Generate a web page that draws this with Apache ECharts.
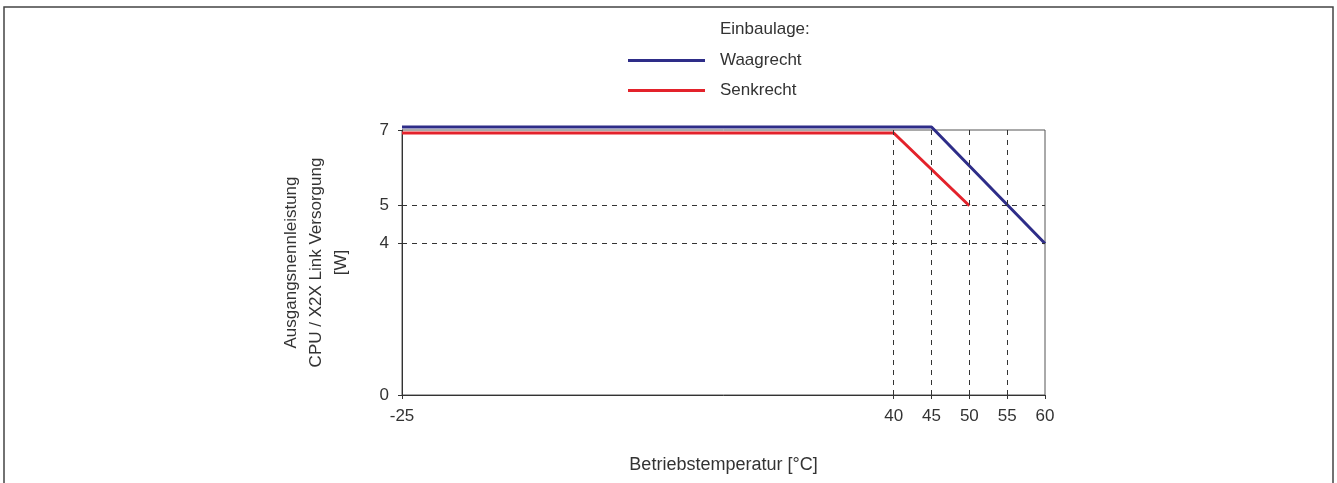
<!DOCTYPE html>
<html>
<head>
<meta charset="utf-8">
<script src="https://cdn.jsdelivr.net/npm/echarts@6/dist/echarts.min.js"></script>
<style>
  html, body { margin: 0; padding: 0; background: #fff; }
  #chart { width: 1337px; height: 483px; }
</style>
</head>
<body>
<div id="chart"></div>
<script>
// Waagrecht (horizontal) derating curve
var waagTemp = [-25, 45, 60];
var waagPower = [7.08, 7.08, 4];
// Senkrecht (vertical) derating curve
var senkTemp = [-25, 40, 50];
var senkPower = [6.92, 6.92, 5];
// tick labels
var xTicks = [-25, 40, 45, 50, 55, 60];
var yTicks = [0, 4, 5, 7];
// dashed guide lines
var xGuides = [40, 45, 50, 55];
var yGuides = [4, 5];

function pairs(xs, ys) {
  var out = [];
  for (var i = 0; i < xs.length; i++) out.push([xs[i], ys[i]]);
  return out;
}

var myChart = echarts.init(document.getElementById('chart'));
var txt = '#333';
var font = 'Liberation Sans, Arial, sans-serif';

var guideData = [];
xGuides.forEach(function (v) { guideData.push({ xAxis: v }); });
yGuides.forEach(function (v) { guideData.push({ yAxis: v }); });

var option = {
  backgroundColor: '#fff',
  animation: false,
  textStyle: { fontFamily: font, color: txt },
  title: {
    text: 'Einbaulage:',
    left: 720,
    top: 21,
    padding: 0,
    textStyle: { fontSize: 17, fontWeight: 'normal', color: txt, fontFamily: font }
  },
  legend: {
    orient: 'vertical',
    left: 628,
    top: 52,
    padding: 0,
    itemGap: 13,
    itemWidth: 77,
    itemHeight: 3,
    icon: 'rect',
    textStyle: { fontSize: 17, color: txt, fontFamily: font, padding: [0, 0, 0, 10] },
    data: ['Waagrecht', 'Senkrecht']
  },
  grid: {
    left: 402, right: 292, top: 130, bottom: 88,
    show: true, borderColor: '#555', borderWidth: 1
  },
  xAxis: {
    type: 'value',
    min: -25, max: 60,
    name: 'Betriebstemperatur [°C]',
    nameLocation: 'middle',
    nameGap: 61,
    nameTextStyle: { fontSize: 18, color: txt },
    axisLine: { show: true, onZero: false, lineStyle: { color: '#333', width: 1 } },
    axisTick: { show: true, length: 4, customValues: xTicks, lineStyle: { color: '#333' } },
    axisLabel: { fontSize: 17, color: txt, margin: 13, customValues: xTicks },
    splitLine: { show: false }
  },
  yAxis: {
    type: 'value',
    min: 0, max: 7,
    name: 'Ausgangsnennleistung\nCPU / X2X Link Versorgung\n[W]',
    nameLocation: 'middle',
    nameRotate: 90,
    nameGap: 48,
    nameTextStyle: { fontSize: 17, color: txt, lineHeight: 25 },
    axisLine: { show: true, onZero: false, lineStyle: { color: '#333', width: 1 } },
    axisTick: { show: true, length: 4, customValues: yTicks, lineStyle: { color: '#333' } },
    axisLabel: { fontSize: 17, color: txt, margin: 13, customValues: yTicks },
    splitLine: { show: false }
  },
  graphic: [{
    type: 'rect',
    shape: { x: 4, y: 7, width: 1329, height: 490 },
    style: { fill: 'none', stroke: '#444', lineWidth: 1.5 },
    silent: true
  }],
  series: [{
    name: 'Guides',
    type: 'line',
    data: [],
    silent: true,
    markLine: {
      silent: true,
      symbol: 'none',
      label: { show: false },
      lineStyle: { color: '#333', width: 1, type: [5, 5] },
      data: guideData
    },
    z: 1
  }, {
    name: 'Waagrecht',
    type: 'line',
    data: pairs(waagTemp, waagPower),
    symbol: 'none',
    clip: false,
    color: '#2e2d88',
    lineStyle: { color: '#2e2d88', width: 3 },
    z: 3
  }, {
    name: 'Senkrecht',
    type: 'line',
    data: pairs(senkTemp, senkPower),
    symbol: 'none',
    clip: false,
    color: '#e3222b',
    lineStyle: { color: '#e3222b', width: 3 },
    z: 2
  }]
};

myChart.setOption(option);
</script>
</body>
</html>
